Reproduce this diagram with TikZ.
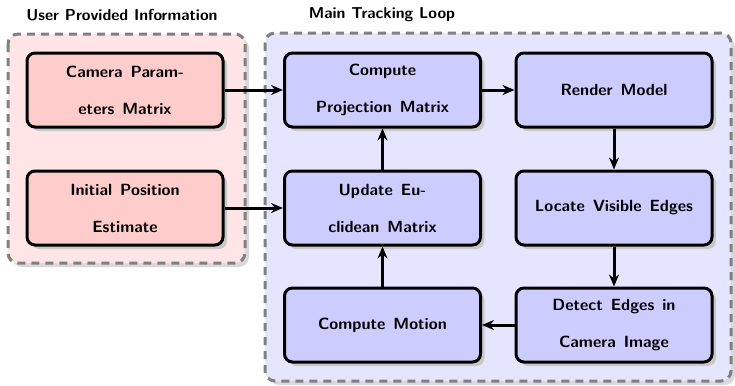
\documentclass[tikz,border=0pt]{standalone}
\usetikzlibrary{arrows.meta,shadows}
\definecolor{pinkbox}{RGB}{255,204,204}
\definecolor{pinkbg}{RGB}{255,229,229}
\definecolor{bluebox}{RGB}{204,204,255}
\definecolor{bluebg}{RGB}{229,229,255}
\definecolor{shadowgray}{RGB}{200,200,200}
\newcommand{\myboxfont}{\sffamily\bfseries\fontsize{8.1}{18.5}\selectfont\spaceskip=4pt\relax}
\tikzset{
  procbox/.style={draw=black, line width=1.5pt, rounded corners=4pt,
    minimum width=98pt, minimum height=37pt, align=center,
    font=\myboxfont,
    drop shadow={shadow xshift=2pt, shadow yshift=-2pt, fill=shadowgray, opacity=1}},
  pinkstep/.style={procbox, fill=pinkbox},
  bluestep/.style={procbox, fill=bluebox},
  groupbox/.style={draw=gray, line width=1.5pt, dash pattern=on 4pt off 3pt, rounded corners=5pt,
    drop shadow={shadow xshift=2pt, shadow yshift=-2pt, fill=shadowgray!70, opacity=1}},
  grouptitle/.style={font=\sffamily\bfseries\fontsize{7.9}{9}\selectfont},
  conn/.style={line width=1.5pt, -{Stealth[length=6pt,width=5pt,inset=2pt]}}
}
\begin{document}
\begin{tikzpicture}[x=0.5pt,y=-0.5pt]
\useasboundingbox (0,0) rectangle (735,386);
% groups
\path[groupbox, fill=pinkbg] (8,34) rectangle (245,263);
\path[groupbox, fill=bluebg] (265,33) rectangle (731,381);
\node[grouptitle] (t1) at (122,15) {User Provided Information};
\node[grouptitle] (t2) at (382,15) {Main Tracking Loop};
% nodes
\node[pinkstep] (cam) at (125,90) {Camera Param-\\eters Matrix};
\node[pinkstep] (init) at (125,208) {Initial Position\\Estimate};
\node[bluestep] (proj) at (382.5,90) {Compute\\Projection Matrix};
\node[bluestep] (rend) at (614,90) {Render Model};
\node[bluestep] (upd) at (382.5,208) {Update Eu-\\clidean Matrix};
\node[bluestep] (loc) at (614,208) {Locate Visible Edges};
\node[bluestep] (mot) at (382.5,325) {Compute Motion};
\node[bluestep] (det) at (614,325) {Detect Edges in\\Camera Image};
% connectors
\draw[conn] (cam) -- (proj);
\draw[conn] (init) -- (upd);
\draw[conn] (proj) -- (rend);
\draw[conn] (rend) -- (loc);
\draw[conn] (loc) -- (det);
\draw[conn] (det) -- (mot);
\draw[conn] (mot) -- (upd);
\draw[conn] (upd) -- (proj);
\end{tikzpicture}
\end{document}
